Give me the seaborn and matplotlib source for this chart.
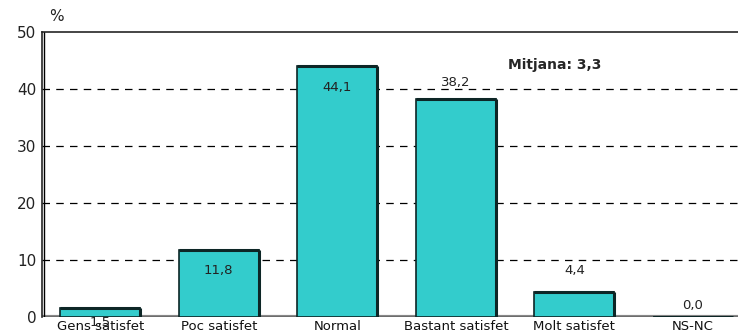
import matplotlib
matplotlib.use("Agg")
import matplotlib.pyplot as plt
import seaborn as sns
import pandas as pd

# --------------------------
# Data
# --------------------------
categories = ["Gens satisfet", "Poc satisfet", "Normal", "Bastant satisfet", "Molt satisfet", "NS-NC"]
values = [1.5, 11.8, 44.1, 38.2, 4.4, 0.0]
value_labels = ["1,5", "11,8", "44,1", "38,2", "4,4", "0,0"]
label_y = [-0.9, 8.1, 40.2, 41.2, 8.1, 2.1]
yticks = [0, 10, 20, 30, 40, 50]
mean_text = "Mitjana: 3,3"

df = pd.DataFrame({"cat": categories, "val": values})

# --------------------------
# Figure
# --------------------------
sns.set_style("white")
plt.rcParams["font.family"] = ["DejaVu Sans"]

fig = plt.figure(figsize=(7.38, 3.36), dpi=100)
ax = fig.add_axes([0.057, 0.0565, 0.943, 0.8485])

sns.barplot(data=df, x="cat", y="val", color="#33CCCC", width=0.675,
            edgecolor="#0d2626", linewidth=1.2, saturation=1, ax=ax, zorder=3)

# dark shadow on top/right of bars
for p in ax.patches:
    x0, w, h = p.get_x(), p.get_width(), p.get_height()
    ax.plot([x0, x0 + w], [h, h], color="#0d2626", lw=2.2, zorder=4, solid_capstyle="butt")
    ax.plot([x0 + w, x0 + w], [0, h], color="#0d2626", lw=2.2, zorder=4, solid_capstyle="butt")

for i, (lab, ly) in enumerate(zip(value_labels, label_y)):
    ax.text(i, ly, lab, ha="center", va="center", fontsize=9.5, color="#222222", zorder=5)

ax.text(3.83, 44.2, mean_text, ha="center", va="center", fontsize=10, fontweight="bold")

# gridlines
for t in yticks[1:-1]:
    ax.axhline(t, color="black", lw=0.9, ls=(0, (6, 5)), zorder=1)

ax.set_xlim(-0.49, 5.38)
ax.set_ylim(0, 50)
ax.set_yticks(yticks)
ax.set_yticklabels([str(t) for t in yticks], fontsize=11, color="#222222")
ax.tick_params(axis="y", length=3, pad=1)
ax.tick_params(axis="x", length=0, pad=2, labelsize=9.5, labelcolor="#111111")
ax.set_xlabel("")
ax.set_ylabel("")

# floor and spines
ax.axhline(0, color="#888888", lw=3, zorder=2)
ax.axhline(0, color="black", lw=1, zorder=2)
for s in ["right", "bottom"]:
    ax.spines[s].set_visible(False)
ax.spines["top"].set_linewidth(1.2)
ax.spines["left"].set_linewidth(1.2)
ax.axvline(-0.475, color="black", lw=1, zorder=2)

fig.text(0.077, 0.95, "%", ha="center", va="center", fontsize=11, color="#222222")

plt.savefig("out.png", dpi=100)
